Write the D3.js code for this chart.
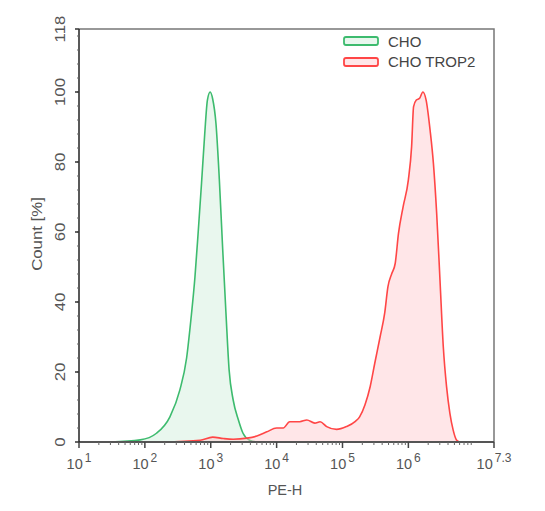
<!DOCTYPE html>
<html>
<head>
<meta charset="utf-8">
<script src="https://cdn.jsdelivr.net/npm/d3@7"></script>
<style>
  body { margin: 0; background: #fff; }
  svg { font-family: "Liberation Sans", Arial, sans-serif; }
</style>
</head>
<body>
<div id="chart"></div>
<script>
// CHO (control) histogram, PE-H vs count %
var choX = [30, 85, 150, 240, 340, 430, 500, 575, 645, 725, 810, 890, 980, 1070, 1200, 1350, 1510, 1700, 1900, 2190, 2630, 3090, 3890, 5010];
var choY = [0, 0.6, 2.5, 7.2, 14.9, 24, 35, 47, 60, 74, 88, 97.7, 100, 98, 91, 75, 56, 37, 20.6, 12, 6.3, 2.5, 0.5, 0];

// CHO TROP2 histogram
var tropX = [186, 690, 1070, 1550, 2190, 3550, 5010, 7080, 10000, 12600, 15800, 22400, 28800, 38000, 45700, 57500, 81300, 115000, 155000, 182000, 219000, 263000, 309000, 372000, 437000, 490000, 562000, 631000, 708000, 832000, 1000000, 1120000, 1200000, 1320000, 1480000, 1660000, 1860000, 2140000, 2400000, 2690000, 3020000, 3390000, 3800000, 4270000, 4790000, 5370000, 6030000];
var tropY = [0, 0.5, 1.4, 1.0, 0.8, 1.1, 1.7, 2.9, 4.0, 4.0, 5.8, 5.8, 6.3, 5.4, 5.8, 4.4, 3.6, 4.4, 5.8, 7.2, 10.6, 15.8, 22.5, 30, 36.8, 44.4, 48.2, 51, 59.6, 67.2, 74.9, 84.4, 95.8, 97.7, 98.2, 100, 97.7, 89, 79.6, 65.3, 46.3, 27.2, 15.8, 8.2, 3.4, 0.6, 0];

var xMajor = [1, 2, 3, 4, 5, 6, 7.3];   // exponents
var yMajor = [0, 20, 40, 60, 80, 100, 118];
var seriesNames = ["CHO", "CHO TROP2"];

var width = 545, height = 511;
var margin = { left: 79, right: 51, top: 29, bottom: 69 };

var svg = d3.select("#chart").append("svg")
    .attr("width", width)
    .attr("height", height);

var x = d3.scaleLog()
    .domain([10, Math.pow(10, 7.3)])
    .range([margin.left, width - margin.right]);

var y = d3.scaleLinear()
    .domain([0, 118])
    .range([height - margin.bottom, margin.top]);

var colors = [
    { stroke: "#3dbb6e", fill: "#e9f7ee" },
    { stroke: "#ff4646", fill: "rgba(255,200,205,0.45)" }
];

function toPts(xs, ys) {
    return xs.map(function (d, i) { return [d, ys[i]]; });
}

var area = d3.area()
    .x(function (d) { return x(d[0]); })
    .y0(y(0))
    .y1(function (d) { return y(d[1]); })
    .curve(d3.curveMonotoneX);

var line = d3.line()
    .x(function (d) { return x(d[0]); })
    .y(function (d) { return y(d[1]); })
    .curve(d3.curveMonotoneX);

var series = [toPts(choX, choY), toPts(tropX, tropY)];

series.forEach(function (s, i) {
    svg.append("path")
        .attr("d", area(s))
        .attr("fill", colors[i].fill);
    svg.append("path")
        .attr("d", line(s))
        .attr("fill", "none")
        .attr("stroke", colors[i].stroke)
        .attr("stroke-width", 1.6);
});

// frame (top / right)
svg.append("path")
    .attr("d", "M" + x.range()[0] + "," + y(118) + "H" + x.range()[1] + "V" + y(0))
    .attr("fill", "none")
    .attr("stroke", "#777")
    .attr("stroke-width", 1.5);

// bottom axis with log minor ticks
var minorX = [];
for (var e = 1; e < 8; e++) {
    for (var m = 2; m <= 9; m++) {
        var v = m * Math.pow(10, e);
        if (v < Math.pow(10, 7.3)) minorX.push(v);
    }
}
var xAxis = svg.append("g");
xAxis.append("line")
    .attr("x1", x.range()[0]).attr("x2", x.range()[1])
    .attr("y1", y(0)).attr("y2", y(0))
    .attr("stroke", "#555").attr("stroke-width", 2);
xAxis.selectAll(".minor").data(minorX).enter().append("line")
    .attr("x1", function (d) { return x(d); }).attr("x2", function (d) { return x(d); })
    .attr("y1", y(0)).attr("y2", y(0) + 3)
    .attr("stroke", "#666");
xAxis.selectAll(".major").data(xMajor).enter().append("line")
    .attr("x1", function (d) { return x(Math.pow(10, d)); }).attr("x2", function (d) { return x(Math.pow(10, d)); })
    .attr("y1", y(0)).attr("y2", y(0) + 6)
    .attr("stroke", "#444").attr("stroke-width", 1.5);

var xl = xAxis.selectAll(".lab").data(xMajor).enter().append("text")
    .attr("x", function (d) { return x(Math.pow(10, d)); })
    .attr("y", y(0) + 27)
    .attr("text-anchor", "middle")
    .attr("fill", "#555")
    .style("font-size", "14.5px");
xl.append("tspan").text("10");
xl.append("tspan")
    .attr("dy", -7)
    .attr("dx", 2)
    .style("font-size", "12px")
    .text(function (d) { return d; });

svg.append("text")
    .attr("x", 285).attr("y", 495)
    .attr("text-anchor", "middle")
    .attr("fill", "#555")
    .style("font-size", "14.5px")
    .text("PE-H");

// left axis
var yAxis = svg.append("g");
yAxis.append("line")
    .attr("x1", x.range()[0]).attr("x2", x.range()[0])
    .attr("y1", y(0)).attr("y2", y(118))
    .attr("stroke", "#222").attr("stroke-width", 1.5);
yAxis.selectAll(".minor").data(d3.range(4, 118, 4)).enter().append("line")
    .attr("x1", x.range()[0] - 2).attr("x2", x.range()[0])
    .attr("y1", function (d) { return y(d); }).attr("y2", function (d) { return y(d); })
    .attr("stroke", "#666");
yAxis.selectAll(".major").data(yMajor).enter().append("line")
    .attr("x1", x.range()[0] - 4).attr("x2", x.range()[0])
    .attr("y1", function (d) { return y(d); }).attr("y2", function (d) { return y(d); })
    .attr("stroke", "#333").attr("stroke-width", 1.5);
yAxis.selectAll(".lab").data(yMajor).enter().append("text")
    .attr("transform", function (d) { return "translate(65," + y(d) + ") rotate(-90) scale(1.2,1)"; })
    .attr("text-anchor", "middle")
    .attr("fill", "#555")
    .style("font-size", "14px")
    .text(function (d) { return d; });

svg.append("text")
    .attr("transform", "translate(42,234) rotate(-90) scale(1.2,1)")
    .attr("text-anchor", "middle")
    .attr("fill", "#555")
    .style("font-size", "14px")
    .text("Count [%]");

// legend
var legend = svg.append("g");
seriesNames.forEach(function (n, i) {
    legend.append("rect")
        .attr("x", 344).attr("y", 37 + i * 21)
        .attr("width", 34).attr("height", 8)
        .attr("rx", 2)
        .attr("fill", colors[i].fill)
        .attr("stroke", colors[i].stroke)
        .attr("stroke-width", 1.8);
    legend.append("text")
        .attr("x", 388).attr("y", 46.5 + i * 20.5)
        .attr("fill", "#444")
        .style("font-size", "15px")
        .text(n);
});
</script>
</body>
</html>
